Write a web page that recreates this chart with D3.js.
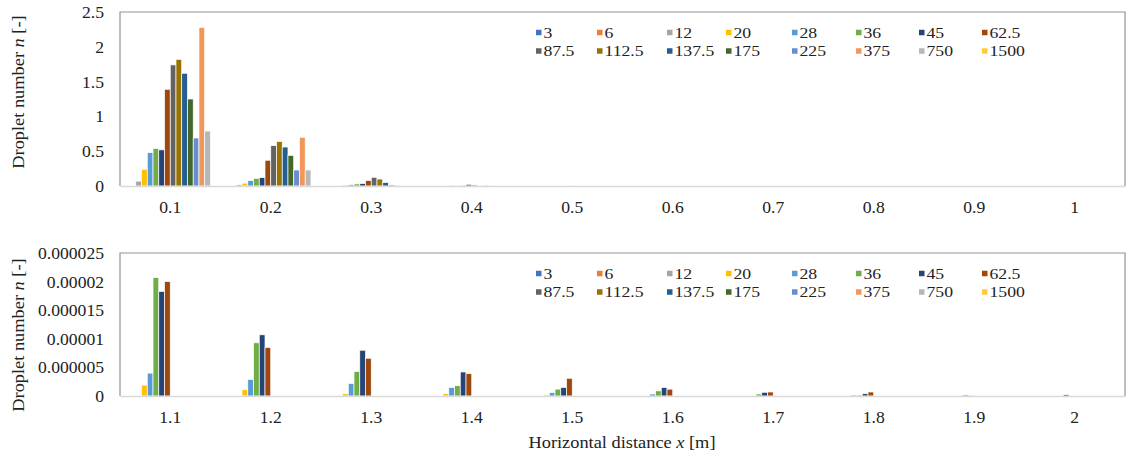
<!DOCTYPE html>
<html>
<head>
<meta charset="utf-8">
<script src="https://cdn.jsdelivr.net/npm/d3@7"></script>
<style>
  html, body { margin: 0; padding: 0; background: #fff; }
  svg { display: block; }
  svg text { font-family: "Liberation Serif", "Times New Roman", Tinos, "DejaVu Serif", serif; fill: #222; }
</style>
</head>
<body>
<svg id="chart" width="1126" height="459"></svg>
<script>
// Droplet size classes (legend entries)
const seriesNames = ["3", "6", "12", "20", "28", "36", "45", "62.5",
  "87.5", "112.5", "137.5", "175", "225", "375", "750", "1500"];

// Horizontal distance categories
const nearX = ["0.1", "0.2", "0.3", "0.4", "0.5", "0.6", "0.7", "0.8", "0.9", "1"];
const farX  = ["1.1", "1.2", "1.3", "1.4", "1.5", "1.6", "1.7", "1.8", "1.9", "2"];

// Droplet number per category (rows) and size class (columns), 0.1–1 m
const nearValues = [
  [0, 0, 0.07, 0.24, 0.48, 0.54, 0.52, 1.39, 1.74, 1.82, 1.62, 1.25, 0.69, 2.28, 0.79, 0],
  [0, 0, 0.02, 0.04, 0.08, 0.11, 0.12, 0.37, 0.58, 0.64, 0.56, 0.44, 0.23, 0.70, 0.23, 0],
  [0, 0, 0, 0.015, 0.02, 0.03, 0.035, 0.08, 0.125, 0.10, 0.05, 0.015, 0.005, 0, 0, 0],
  [0, 0, 0, 0, 0.005, 0.01, 0.012, 0.025, 0.015, 0.01, 0.005, 0, 0, 0, 0, 0],
  [0, 0, 0, 0, 0, 0, 0, 0.01, 0, 0, 0, 0, 0, 0, 0, 0],
  [0, 0, 0, 0, 0, 0, 0, 0, 0, 0, 0, 0, 0, 0, 0, 0],
  [0, 0, 0, 0, 0, 0, 0, 0, 0, 0, 0, 0, 0, 0, 0, 0],
  [0, 0, 0, 0, 0, 0, 0, 0, 0, 0, 0, 0, 0, 0, 0, 0],
  [0, 0, 0, 0, 0, 0, 0, 0, 0, 0, 0, 0, 0, 0, 0, 0],
  [0, 0, 0, 0, 0, 0, 0, 0, 0, 0, 0, 0, 0, 0, 0, 0]
];

// Droplet number per category and size class, 1.1–2 m
const farValues = [
  [0, 0, 0.1e-6, 1.9e-6, 4.0e-6, 20.7e-6, 18.3e-6, 20.0e-6, 0, 0, 0, 0, 0, 0, 0, 0],
  [0, 0, 0.1e-6, 1.1e-6, 2.9e-6, 9.3e-6, 10.7e-6, 8.5e-6, 0, 0, 0, 0, 0, 0, 0, 0],
  [0, 0, 0.05e-6, 0.4e-6, 2.2e-6, 4.3e-6, 8.0e-6, 6.6e-6, 0, 0, 0, 0, 0, 0, 0, 0],
  [0, 0, 0, 0.4e-6, 1.5e-6, 1.8e-6, 4.2e-6, 3.9e-6, 0, 0, 0, 0, 0, 0, 0, 0],
  [0, 0, 0, 0.2e-6, 0.6e-6, 1.2e-6, 1.5e-6, 3.1e-6, 0, 0, 0, 0, 0, 0, 0, 0],
  [0, 0, 0, 0, 0.35e-6, 0.9e-6, 1.5e-6, 1.2e-6, 0, 0, 0, 0, 0, 0, 0, 0],
  [0, 0, 0, 0, 0.12e-6, 0.35e-6, 0.65e-6, 0.7e-6, 0, 0, 0, 0, 0, 0, 0, 0],
  [0, 0, 0, 0, 0.18e-6, 0.18e-6, 0.4e-6, 0.7e-6, 0, 0, 0, 0, 0, 0, 0, 0],
  [0, 0, 0, 0, 0, 0.1e-6, 0.18e-6, 0.06e-6, 0, 0, 0, 0, 0, 0, 0, 0],
  [0, 0, 0, 0, 0, 0, 0.23e-6, 0, 0, 0, 0, 0, 0, 0, 0, 0]
];

// Y tick values and their printed labels
const nearTicks = [0, 0.5, 1, 1.5, 2, 2.5];
const nearTickLabels = ["0", "0.5", "1", "1.5", "2", "2.5"];
const farTicks = [0, 0.000005, 0.00001, 0.000015, 0.00002, 0.000025];
const farTickLabels = ["0", "0.000005", "0.00001", "0.000015", "0.00002", "0.000025"];

// Series colours (office palette)
const palette = ["#4472C4", "#ED7D31", "#A5A5A5", "#FFC000", "#5B9BD5", "#70AD47",
  "#264478", "#9E480E", "#636363", "#997300", "#255E91", "#43682B",
  "#698ED0", "#F1975A", "#B7B7B7", "#FFCD33"];

const svg = d3.select("#chart");

// text is set a little wide, as in the printed figure
const TICK_SIZE = 16, TICK_STRETCH = 1.1;
const LEGEND_SIZE = 15, LEGEND_STRETCH = 1.18;
const TITLE_SIZE = 17, TITLE_STRETCH = 1.08;

// legend column offsets from the first entry
const legendCols = [0, 61, 131, 190, 256, 320, 383, 446];

function panel(opts) {
  const { cats, values, ticks, tickLabels, top, bottom, left, right, titleY } = opts;
  const g = svg.append("g");

  const x = d3.scaleBand().domain(cats).range([left, right]).paddingInner(0).paddingOuter(0);
  const xs = d3.scaleBand().domain(d3.range(seriesNames.length))
    .range([0, x.bandwidth()]).paddingInner(0).paddingOuter(0.75);
  const y = d3.scaleLinear().domain([ticks[0], ticks[ticks.length - 1]]).range([bottom, top]);

  // plot-area frame (left, top, right)
  g.append("path")
    .attr("d", `M${left},${bottom}V${top}H${right}V${bottom}`)
    .attr("fill", "none").attr("stroke", "#939393").attr("stroke-width", 1.2);

  // bars
  const groups = g.append("g").selectAll("g")
    .data(values.map((row, i) => ({ cat: cats[i], row })))
    .join("g")
    .attr("transform", d => `translate(${x(d.cat)},0)`);
  groups.selectAll("rect")
    .data(d => d.row.map((v, s) => ({ v, s })).filter(e => e.v > 0))
    .join("rect")
    .attr("x", e => xs(e.s))
    .attr("width", xs.bandwidth())
    .attr("y", e => y(e.v))
    .attr("height", e => y(0) - y(e.v))
    .attr("fill", e => palette[e.s])
    .attr("stroke", "#fff").attr("stroke-width", 0.7);

  // category axis
  const xAxis = d3.axisBottom(x).tickSize(0).tickPadding(0);
  const xa = g.append("g").attr("transform", `translate(0,${bottom})`).call(xAxis);
  xa.attr("font-family", null).attr("font-size", null);
  xa.select(".domain").attr("stroke", "#d9d9d9").attr("stroke-width", 1.5);
  xa.selectAll(".tick text")
    .attr("y", 0).attr("dy", null)
    .attr("font-size", TICK_SIZE)
    .attr("transform", `translate(0,27) scale(${TICK_STRETCH},1)`);

  // value axis
  const yAxis = d3.axisLeft(y).tickValues(ticks).tickSize(0).tickPadding(0)
    .tickFormat((d, i) => tickLabels[i]);
  const ya = g.append("g").attr("transform", `translate(${left},0)`).call(yAxis);
  ya.attr("font-family", null).attr("font-size", null);
  ya.select(".domain").remove();
  ya.selectAll(".tick text")
    .attr("x", 0).attr("dy", "0.34em")
    .attr("font-size", TICK_SIZE)
    .attr("transform", `translate(-16,0) scale(${TICK_STRETCH},1)`);

  // axis title
  const t = g.append("text")
    .attr("transform", `translate(24,${titleY}) rotate(-90) scale(${TITLE_STRETCH},1)`)
    .attr("text-anchor", "middle").attr("font-size", TITLE_SIZE);
  t.append("tspan").text("Droplet number ");
  t.append("tspan").attr("font-style", "italic").text("n");
  t.append("tspan").text(" [-]");

  // legend: 2 rows x 8 columns
  const items = g.append("g").selectAll("g").data(seriesNames).join("g")
    .attr("transform", (d, i) => {
      const col = i % 8, row = Math.floor(i / 8);
      return `translate(${536 + legendCols[col]},${top + 20.5 + row * 18.5})`;
    });
  items.append("rect").attr("x", 0).attr("y", -2.75).attr("width", 5.5).attr("height", 5.5)
    .attr("fill", (d, i) => palette[i]);
  items.append("text")
    .attr("transform", `translate(7.5,0) scale(${LEGEND_STRETCH},1)`)
    .attr("dy", "0.35em")
    .attr("font-size", LEGEND_SIZE).text(d => d);
}

panel({ cats: nearX, values: nearValues, ticks: nearTicks, tickLabels: nearTickLabels,
  top: 12, bottom: 186, left: 120, right: 1125, titleY: 92 });
panel({ cats: farX, values: farValues, ticks: farTicks, tickLabels: farTickLabels,
  top: 253, bottom: 396, left: 120, right: 1125, titleY: 335 });

// shared x-axis title
const xt = svg.append("text")
  .attr("transform", `translate(622,448) scale(${TITLE_STRETCH},1)`)
  .attr("text-anchor", "middle").attr("font-size", TITLE_SIZE);
xt.append("tspan").text("Horizontal distance ");
xt.append("tspan").attr("font-style", "italic").text("x");
xt.append("tspan").text(" [m]");
</script>
</body>
</html>
